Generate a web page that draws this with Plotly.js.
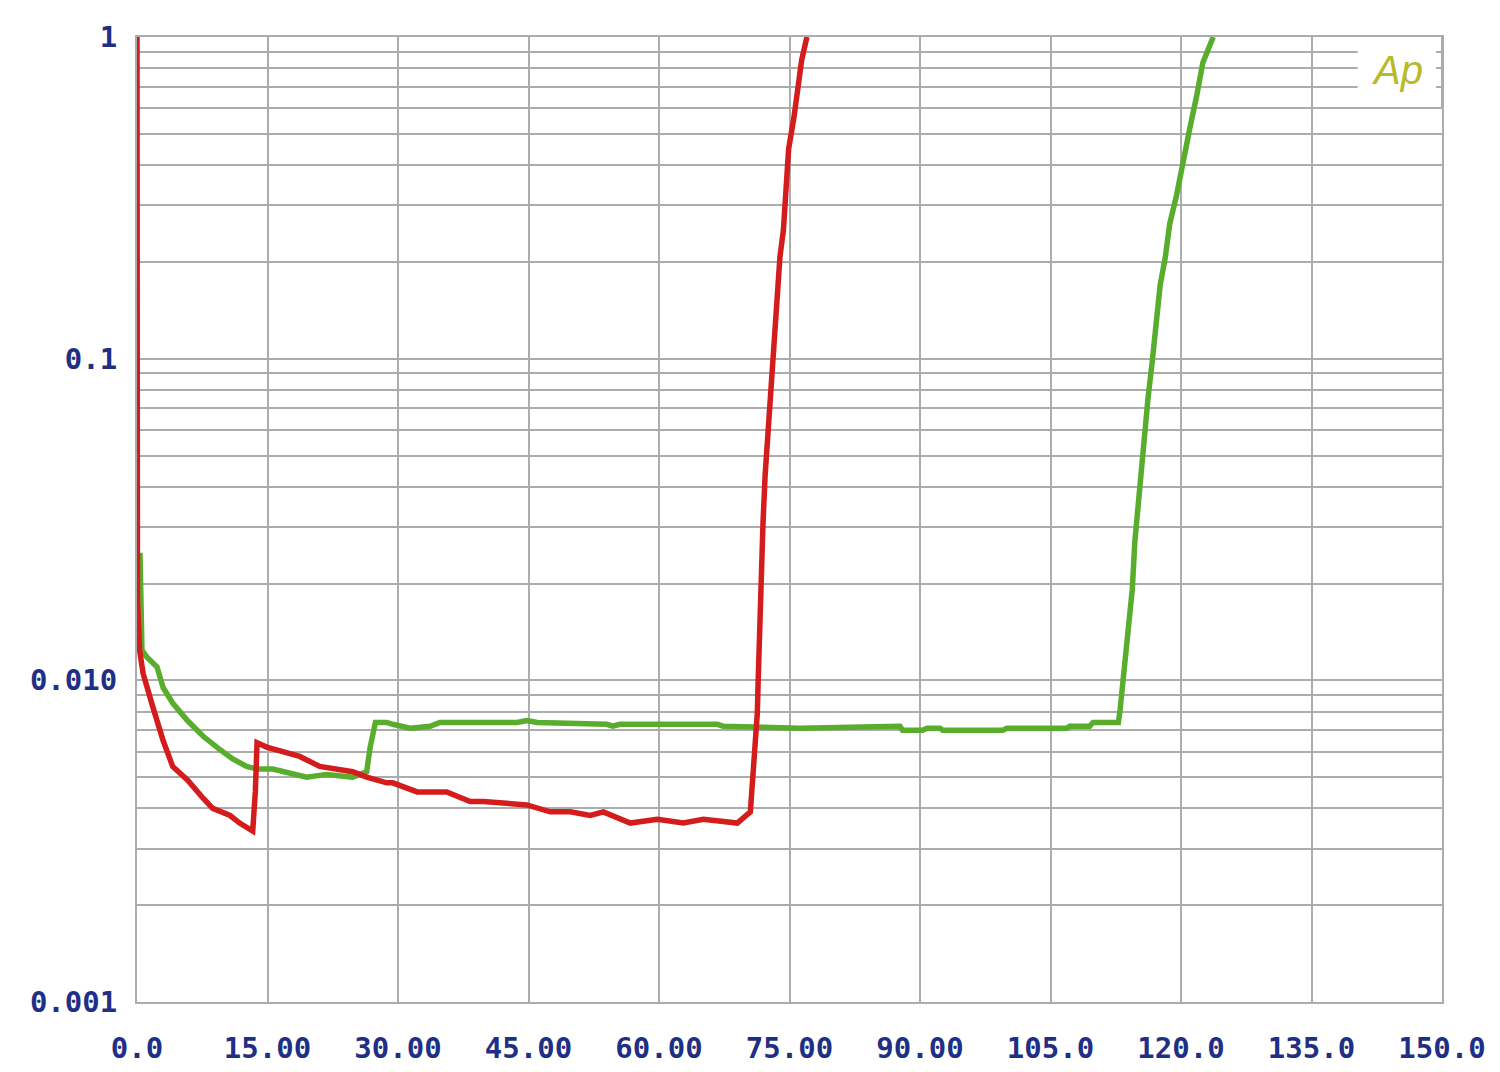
<!DOCTYPE html>
<html>
<head>
<meta charset="utf-8">
<script src="https://cdn.plot.ly/plotly-3.0.1.min.js"></script>
<style>html,body{margin:0;padding:0;background:#fff;}#chart{width:1500px;height:1072px;}</style>
</head>
<body>
<div id="chart"></div>
<script>
// Red trace
const redX = [0, 0.05, 0.3, 0.7, 1.8, 3.0, 4.1, 5.8, 7.6, 8.7, 10.7, 11.8, 13.3, 13.6, 13.8, 14.9, 18.7, 21.0, 24.8, 26.4, 28.7, 29.4, 32.2, 35.6, 38.3, 39.8, 44.8, 47.5, 49.8, 52.1, 53.6, 56.7, 59.8, 62.8, 65.1, 69.0, 70.5, 70.8, 71.3, 71.4, 71.5, 71.6, 71.95, 72.2, 72.5, 72.8, 73.1, 73.3, 73.7, 73.9, 74.3, 74.6, 74.9, 75.5, 76.0, 76.4, 77.0];
const redY = [1.0, 0.0178, 0.0124, 0.0105, 0.0083, 0.0065, 0.0054, 0.0049, 0.0043, 0.0040, 0.0038, 0.0036, 0.0034, 0.0045, 0.0064, 0.0062, 0.0058, 0.0054, 0.0052, 0.0050, 0.0048, 0.0048, 0.0045, 0.0045, 0.0042, 0.0042, 0.0041, 0.0039, 0.0039, 0.0038, 0.0039, 0.0036, 0.0037, 0.0036, 0.0037, 0.0036, 0.0039, 0.0050, 0.0079, 0.0100, 0.0121, 0.0195, 0.0306, 0.0435, 0.058, 0.075, 0.0998, 0.128, 0.166, 0.207, 0.251, 0.347, 0.449, 0.560, 0.699, 0.848, 1.0];

// Green trace
const greenX = [0.34, 0.57, 1.15, 2.3, 3.0, 4.1, 5.8, 7.6, 9.5, 11.0, 12.6, 13.8, 15.6, 17.9, 19.5, 21.8, 24.8, 26.4, 26.8, 27.4, 28.7, 29.4, 31.4, 33.7, 34.8, 43.7, 44.8, 46.0, 54.0, 54.7, 55.5, 66.7, 67.4, 76.2, 87.7, 88.0, 90.3, 90.8, 92.3, 92.6, 99.5, 100.0, 106.9, 107.2, 109.5, 109.9, 111.8, 112.2, 112.8, 113.0, 113.2, 113.8, 114.4, 114.7, 115.2, 115.6, 116.2, 116.7, 117.1, 117.6, 118.2, 118.7, 119.5, 120.2, 121.0, 121.8, 122.5, 123.7];
const greenY = [0.0249, 0.0124, 0.0118, 0.0110, 0.0095, 0.0085, 0.0075, 0.0067, 0.0061, 0.0057, 0.0054, 0.0053, 0.0053, 0.0051, 0.0050, 0.0051, 0.0050, 0.0052, 0.0062, 0.0074, 0.0074, 0.0073, 0.0071, 0.0072, 0.0074, 0.0074, 0.0075, 0.0074, 0.0073, 0.0072, 0.0073, 0.0073, 0.0072, 0.0071, 0.0072, 0.0070, 0.0070, 0.0071, 0.0071, 0.0070, 0.0070, 0.0071, 0.0071, 0.0072, 0.0072, 0.0074, 0.0074, 0.0074, 0.0074, 0.0081, 0.0093, 0.0137, 0.0192, 0.0271, 0.0380, 0.0531, 0.0749, 0.0983, 0.129, 0.169, 0.207, 0.262, 0.323, 0.409, 0.518, 0.656, 0.830, 1.0];

// Axis ticks
const xTickVals = [0, 15, 30, 45, 60, 75, 90, 105, 120, 135, 150];
const xTickText = ["0.0", "15.00", "30.00", "45.00", "60.00", "75.00", "90.00", "105.0", "120.0", "135.0", "150.0"];
const yTickVals = [0.001,0.002,0.003,0.004,0.005,0.006,0.007,0.008,0.009,
                   0.01,0.02,0.03,0.04,0.05,0.06,0.07,0.08,0.09,
                   0.1,0.2,0.3,0.4,0.5,0.6,0.7,0.8,0.9,1];
const yTickText = ["0.001","","","","","","","","",
                   "0.010","","","","","","","","",
                   "0.1","","","","","","","","",
                   "1"];

const tickFont = {family: "DejaVu Sans Mono", size: 29, color: "#1f2f85", weight: "bold"};

const traces = [
  {x: greenX, y: greenY, mode: "lines", line: {color: "#58ad2c", width: 5.5}, hoverinfo: "skip"},
  {x: redX, y: redY, mode: "lines", line: {color: "#d41c1c", width: 5.5}, hoverinfo: "skip"}
];

const layout = {
  width: 1500, height: 1072,
  margin: {l: 137, r: 58, t: 37, b: 70},
  paper_bgcolor: "#ffffff", plot_bgcolor: "#ffffff",
  showlegend: false,
  xaxis: {
    range: [0, 150], tickvals: xTickVals, ticktext: xTickText,
    showgrid: true, gridcolor: "#acacac", gridwidth: 2, zeroline: false,
    showline: true, linecolor: "#acacac", linewidth: 2, mirror: true,
    ticks: "", tickfont: tickFont, ticklabelstandoff: 19
  },
  yaxis: {
    type: "log", range: [-3, 0], tickvals: yTickVals, ticktext: yTickText,
    showgrid: true, gridcolor: "#acacac", gridwidth: 2, zeroline: false,
    showline: true, linecolor: "#acacac", linewidth: 2, mirror: true,
    ticks: "", tickfont: tickFont, ticklabelstandoff: 12
  },
  shapes: [
    {type: "rect", xref: "x", yref: "y", x0: 140.3, x1: 149.3, y0: 0.63, y1: 0.975,
     fillcolor: "#ffffff", line: {width: 0}, layer: "between"},
    {type: "line", xref: "x", yref: "y", x0: 150, x1: 150, y0: 0.6, y1: 1,
     line: {color: "#acacac", width: 2}, layer: "above"}
  ],
  annotations: [
    {x: 144.9, y: Math.log10(0.79), xref: "x", yref: "y", text: "Ap", showarrow: false,
     font: {family: "Liberation Sans", size: 40, color: "#b9b92c", style: "italic"}}
  ]
};

Plotly.newPlot("chart", traces, layout, {displayModeBar: false, staticPlot: true});
</script>
</body>
</html>
